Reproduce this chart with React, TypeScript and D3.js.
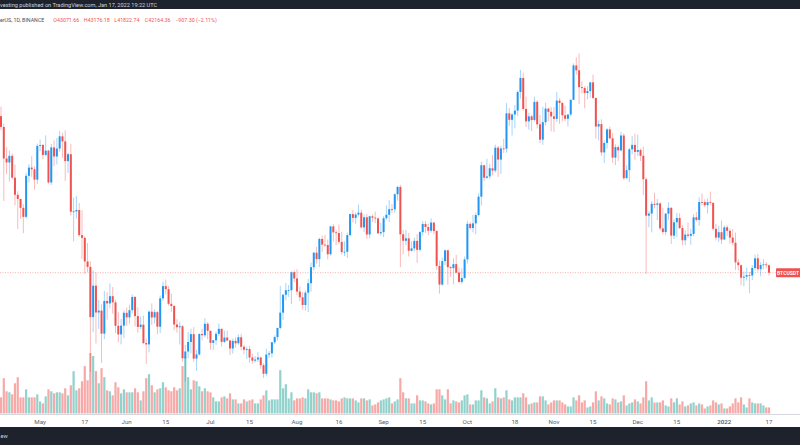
import React from "react";
import * as d3 from "d3";

// BTCUSDT, Binance, daily — values in thousands of USDT; first day 2021-04-17
const startDate = "2021-04-17";

const opens = [
  61.33, 60.01, 56.15, 55.66, 56.47, 53.80, 51.70, 51.19, 50.10, 49.00, 54.02, 55.03, 54.82, 53.56,
  57.69, 57.80, 56.58, 57.11, 53.21, 57.50, 56.39, 57.36, 58.86, 58.24, 55.82, 56.67, 49.63, 49.67, 49.84, 46.76, 46.43, 43.54, 42.87, 36.72, 40.57, 37.29, 37.52, 34.70, 38.70, 38.40, 39.29, 38.53, 35.66, 34.61, 35.68,
  37.25, 36.69, 37.57, 39.19, 36.85, 35.52, 35.80, 33.55, 33.38, 37.39, 36.68, 37.33, 35.55, 39.02, 40.52, 40.14, 38.35, 38.09, 35.82, 35.48, 35.60, 31.68, 32.51, 33.68, 34.64, 31.64, 32.16, 34.65, 34.50, 35.91,
  35.05, 33.57, 33.89, 34.68, 35.29, 33.69, 34.22, 33.86, 32.88, 33.81, 33.52, 34.26, 33.09, 32.73, 32.82, 31.78, 31.39, 31.53, 31.78, 30.84, 29.79, 32.14, 32.29, 33.64, 34.28, 35.40, 37.27, 39.46, 40.01, 40.02, 42.21,
  41.46, 39.85, 39.15, 38.21, 39.72, 40.87, 42.84, 44.61, 43.82, 46.29, 45.60, 45.55, 44.42, 47.83, 47.10, 47.02, 45.94, 44.69, 44.72, 46.76, 49.34, 48.87, 49.28, 49.51, 47.71, 48.95, 46.84, 49.07, 48.90, 48.81, 46.99,
  47.13, 48.83, 49.25, 49.94, 49.92, 51.76, 52.66, 46.86, 46.07, 46.37, 44.85, 45.14, 46.06, 44.96, 47.13, 48.13, 47.75, 47.30, 48.30, 47.26, 42.99, 40.71, 43.58, 44.90, 42.84, 42.72, 43.21, 42.17, 41.03, 41.52,
  43.79, 48.14, 47.63, 48.20, 49.22, 51.47, 55.32, 53.79, 53.95, 54.95, 54.66, 57.47, 56.01, 57.37, 57.35, 61.67, 60.88, 61.53, 62.01, 64.28, 66.00, 62.21, 60.69, 61.30, 60.85, 63.08, 60.33, 58.45, 60.59, 62.25, 61.86,
  61.30, 61.00, 63.23, 62.94, 61.44, 61.01, 61.53, 63.33, 67.54, 66.94, 64.88, 64.77, 64.16, 64.40, 65.47, 63.56, 60.06, 60.36, 56.89, 58.05, 59.71, 58.62, 56.25, 57.54, 57.14, 58.96, 53.73, 54.72, 57.27, 57.81,
  56.95, 57.18, 56.48, 53.60, 49.15, 49.40, 50.59, 50.47, 50.64, 47.59, 47.14, 49.39, 50.10, 46.70, 48.34, 48.86, 47.63, 46.13, 46.83, 46.68, 46.91, 48.94, 48.63, 50.82, 50.81, 50.43, 50.80, 50.72, 47.54, 46.46, 47.12,
  46.22, 47.72, 47.29, 46.46, 45.83, 43.43, 43.08, 41.55, 41.67, 41.86, 41.82, 42.74, 43.92, 42.59, 43.10, 43.18, 43.07,
];

const highs = [
  62.50, 60.43, 57.52, 57.10, 56.76, 55.41, 52.13, 51.20, 50.55, 54.36, 55.46, 56.43, 55.20, 57.96,
  58.46, 57.91, 58.98, 57.20, 57.94, 58.36, 58.65, 59.50, 59.30, 59.59, 56.86, 57.94, 51.37, 51.54, 50.70, 49.80, 46.64, 45.80, 43.55, 42.45, 42.20, 38.83, 38.27, 39.92, 39.80, 40.84, 40.41, 38.85, 37.34, 36.49, 37.53,
  37.90, 38.23, 39.48, 39.29, 37.92, 36.79, 36.90, 34.07, 37.53, 38.40, 37.68, 37.45, 39.38, 41.06, 41.33, 40.53, 39.56, 38.20, 36.46, 36.14, 35.75, 33.30, 34.88, 35.30, 35.50, 32.73, 34.75, 35.30, 36.60, 36.10,
  35.06, 33.94, 34.95, 35.94, 35.29, 35.08, 35.06, 33.92, 34.10, 34.26, 34.59, 34.68, 33.34, 33.11, 33.19, 32.25, 31.95, 32.44, 31.90, 31.06, 32.86, 32.58, 33.65, 34.50, 35.40, 40.55, 39.54, 40.90, 40.64, 42.32, 42.45,
  42.60, 40.46, 39.78, 39.97, 41.39, 43.39, 44.70, 45.31, 46.45, 46.70, 46.79, 46.22, 47.89, 48.14, 47.37, 48.05, 47.16, 46.00, 47.07, 49.38, 49.82, 49.53, 50.50, 49.88, 49.29, 49.36, 49.15, 49.30, 49.66, 48.91, 48.25,
  49.12, 50.40, 51.05, 50.56, 51.90, 52.78, 52.92, 47.36, 47.40, 47.03, 45.99, 46.46, 46.88, 47.25, 48.48, 48.50, 48.16, 48.84, 48.37, 47.36, 43.64, 44.00, 44.98, 45.00, 42.97, 43.92, 44.35, 42.79, 42.69, 44.13,
  48.50, 48.34, 49.23, 49.50, 51.89, 55.75, 55.34, 56.10, 55.49, 56.56, 57.84, 57.68, 57.70, 58.53, 62.93, 62.35, 61.72, 62.70, 64.49, 67.00, 66.64, 63.73, 61.75, 61.49, 63.71, 63.29, 61.50, 62.50, 62.98, 62.36, 62.44,
  62.44, 64.27, 63.52, 63.13, 62.60, 61.56, 63.39, 67.79, 68.53, 69.00, 65.60, 65.00, 64.99, 65.50, 66.40, 63.58, 60.82, 60.95, 58.35, 59.85, 60.05, 59.27, 57.88, 57.80, 59.42, 59.21, 55.33, 57.44, 58.87, 59.18,
  59.05, 57.38, 57.60, 53.86, 49.70, 50.93, 51.94, 51.20, 50.80, 50.10, 49.48, 50.80, 50.20, 48.70, 49.50, 49.44, 48.00, 47.36, 48.30, 47.54, 49.33, 49.58, 51.38, 51.87, 51.16, 51.28, 52.09, 50.72, 48.14, 47.90, 48.55,
  47.95, 47.99, 47.57, 47.51, 47.07, 43.82, 43.15, 42.30, 42.79, 42.25, 43.10, 44.35, 44.46, 43.45, 43.80, 43.48, 43.18,
];

const lows = [
  59.58, 50.93, 54.22, 53.33, 53.60, 50.40, 47.50, 48.75, 47.00, 48.80, 53.22, 53.88, 52.33, 53.01,
  57.05, 56.04, 56.44, 53.05, 52.90, 55.20, 55.42, 56.96, 56.24, 53.40, 54.37, 49.15, 46.00, 48.80, 46.56, 43.83, 42.00, 42.25, 30.00, 34.86, 33.49, 35.26, 31.11, 34.03, 36.42, 37.80, 37.13, 34.78, 33.63, 33.38, 34.15,
  35.67, 35.92, 37.17, 35.57, 34.80, 35.26, 33.42, 31.00, 32.40, 35.78, 35.94, 34.60, 34.76, 38.73, 39.51, 38.12, 37.37, 35.13, 34.82, 33.35, 31.25, 28.81, 31.68, 32.29, 31.28, 30.15, 32.00, 33.86, 34.23, 34.02,
  32.71, 32.70, 33.32, 34.40, 33.13, 33.53, 33.77, 32.08, 32.26, 33.00, 33.31, 32.66, 32.20, 31.60, 31.13, 31.02, 31.16, 31.22, 30.41, 29.28, 29.48, 31.71, 31.77, 33.40, 33.85, 35.21, 36.38, 38.77, 39.20, 38.32, 41.00,
  39.42, 38.69, 37.64, 37.51, 37.33, 39.85, 42.45, 43.26, 42.84, 44.70, 45.35, 43.77, 44.26, 45.97, 45.52, 45.66, 44.38, 44.20, 43.96, 46.63, 48.29, 48.10, 49.03, 47.60, 47.12, 46.32, 46.36, 48.36, 48.22, 46.86, 46.70,
  46.51, 48.63, 48.35, 49.51, 49.50, 50.97, 42.84, 44.41, 45.51, 44.14, 44.74, 44.74, 43.37, 44.75, 46.69, 47.02, 46.76, 47.05, 46.86, 42.50, 39.60, 40.57, 43.09, 40.68, 41.65, 40.76, 42.10, 40.83, 40.75, 41.41,
  43.28, 47.43, 47.09, 46.89, 49.06, 50.38, 53.36, 53.62, 53.66, 54.09, 54.42, 53.88, 54.25, 56.82, 56.85, 60.15, 58.96, 59.85, 61.32, 63.48, 62.00, 60.00, 59.69, 59.51, 60.66, 59.82, 58.00, 57.82, 60.17, 60.72, 59.46,
  59.41, 60.62, 60.38, 60.68, 60.72, 60.08, 61.32, 63.30, 66.38, 62.82, 64.10, 62.28, 63.39, 63.58, 63.40, 58.57, 58.37, 56.47, 55.60, 57.35, 58.47, 55.61, 55.32, 55.84, 57.00, 53.50, 53.67, 53.26, 56.67, 56.00,
  56.46, 55.84, 51.68, 42.00, 47.73, 47.10, 50.04, 48.60, 47.32, 46.85, 46.75, 48.64, 45.67, 46.29, 46.55, 47.51, 45.50, 45.51, 46.41, 45.58, 46.63, 48.42, 47.92, 50.40, 50.19, 49.41, 50.45, 47.32, 46.10, 45.90, 45.68,
  46.21, 46.65, 45.70, 45.50, 42.50, 42.43, 40.61, 40.50, 41.20, 39.65, 41.27, 42.45, 42.31, 41.73, 42.57, 42.69, 41.82,
];

const closes = [
  60.01, 56.15, 55.66, 56.47, 53.80, 51.70, 51.19, 50.10, 49.00, 54.02, 55.03, 54.82, 53.56, 57.69,
  57.80, 56.58, 57.11, 53.21, 57.50, 56.39, 57.36, 58.86, 58.24, 55.82, 56.67, 49.63, 49.67, 49.84, 46.76, 46.43, 43.54, 42.87, 36.72, 40.57, 37.29, 37.52, 34.70, 38.70, 38.40, 39.29, 38.53, 35.66, 34.61, 35.68, 37.25,
  36.69, 37.57, 39.19, 36.85, 35.52, 35.80, 33.55, 33.38, 37.39, 36.68, 37.33, 35.55, 39.02, 40.52, 40.14, 38.35, 38.09, 35.82, 35.48, 35.60, 31.68, 32.51, 33.68, 34.64, 31.64, 32.16, 34.65, 34.50, 35.91, 35.05,
  33.57, 33.89, 34.68, 35.29, 33.69, 34.22, 33.86, 32.88, 33.81, 33.52, 34.26, 33.09, 32.73, 32.82, 31.78, 31.39, 31.53, 31.78, 30.84, 29.79, 32.14, 32.29, 33.64, 34.28, 35.40, 37.27, 39.46, 40.01, 40.02, 42.21, 41.46,
  39.85, 39.15, 38.21, 39.72, 40.87, 42.84, 44.61, 43.82, 46.29, 45.60, 45.55, 44.42, 47.83, 47.10, 47.02, 45.94, 44.69, 44.72, 46.76, 49.34, 48.87, 49.28, 49.51, 47.71, 48.95, 46.84, 49.07, 48.90, 48.81, 46.99, 47.13,
  48.83, 49.25, 49.94, 49.92, 51.76, 52.66, 46.86, 46.07, 46.37, 44.85, 45.14, 46.06, 44.96, 47.13, 48.13, 47.75, 47.30, 48.30, 47.26, 42.99, 40.71, 43.58, 44.90, 42.84, 42.72, 43.21, 42.17, 41.03, 41.52, 43.79,
  48.14, 47.63, 48.20, 49.22, 51.47, 55.32, 53.79, 53.95, 54.95, 54.66, 57.47, 56.01, 57.37, 57.35, 61.67, 60.88, 61.53, 62.01, 64.28, 66.00, 62.21, 60.69, 61.30, 60.85, 63.08, 60.33, 58.45, 60.59, 62.25, 61.86, 61.30,
  61.00, 63.23, 62.94, 61.44, 61.01, 61.53, 63.33, 67.54, 66.94, 64.88, 64.77, 64.16, 64.40, 65.47, 63.56, 60.06, 60.36, 56.89, 58.05, 59.71, 58.62, 56.25, 57.54, 57.14, 58.96, 53.73, 54.72, 57.27, 57.81, 56.95,
  57.18, 56.48, 53.60, 49.15, 49.40, 50.59, 50.47, 50.64, 47.59, 47.14, 49.39, 50.10, 46.70, 48.34, 48.86, 47.63, 46.13, 46.83, 46.68, 46.91, 48.94, 48.63, 50.82, 50.81, 50.43, 50.80, 50.72, 47.54, 46.46, 47.12, 46.22,
  47.72, 47.29, 46.46, 45.83, 43.43, 43.08, 41.55, 41.67, 41.86, 41.82, 42.74, 43.92, 42.59, 43.10, 43.18, 43.07, 42.16,
];

// volume, thousands of BTC
const volumes = [
  48, 105, 66, 63, 57, 90, 108, 48, 48, 72, 48, 48, 48, 57,
  36, 30, 51, 72, 66, 60, 63, 63, 60, 75, 54, 84, 126, 69, 75, 96, 141, 99, 180, 171, 126, 90, 135, 108, 69, 66, 54, 93, 78, 60, 72,
  63, 63, 63, 75, 63, 39, 66, 105, 117, 84, 63, 72, 75, 93, 78, 69, 66, 78, 69, 75, 141, 168, 108, 72, 99, 96, 81, 66, 75, 66,
  63, 48, 36, 36, 48, 51, 45, 60, 42, 42, 30, 30, 42, 36, 39, 42, 30, 30, 42, 54, 69, 39, 42, 42, 42, 129, 75, 87, 45, 63, 39,
  45, 45, 48, 45, 72, 63, 63, 60, 63, 45, 45, 45, 42, 39, 39, 36, 45, 48, 45, 45, 45, 39, 33, 45, 45, 39, 42, 24, 27, 33, 39,
  42, 45, 48, 30, 36, 42, 105, 63, 45, 45, 30, 30, 54, 39, 39, 36, 30, 27, 30, 72, 72, 54, 42, 72, 30, 39, 36, 33, 39, 54,
  57, 27, 27, 39, 39, 69, 48, 45, 30, 36, 75, 48, 45, 48, 69, 42, 39, 48, 48, 48, 60, 48, 27, 30, 33, 33, 51, 51, 39, 27, 33,
  39, 39, 39, 33, 27, 21, 21, 48, 39, 54, 33, 39, 18, 21, 33, 66, 39, 51, 45, 30, 27, 45, 42, 33, 36, 54, 24, 30, 33, 42,
  36, 30, 48, 96, 39, 48, 33, 33, 33, 39, 24, 21, 45, 33, 45, 27, 36, 21, 24, 30, 33, 24, 30, 27, 15, 21, 24, 39, 33, 27, 30,
  15, 15, 21, 30, 45, 33, 48, 27, 18, 45, 33, 30, 30, 30, 24, 18, 18,
];

const tickDates = [
  "2021-05-01", "2021-05-17", "2021-06-01", "2021-06-15", "2021-07-01", "2021-07-15", "2021-08-01", "2021-08-16",
  "2021-09-01", "2021-09-15", "2021-10-01", "2021-10-18", "2021-11-01", "2021-11-15", "2021-12-01", "2021-12-15",
  "2022-01-01", "2022-01-17",
];
const tickLabels = ["May", "17", "Jun", "15", "Jul", "15", "Aug", "16", "Sep", "15", "Oct", "18", "Nov", "15", "Dec", "15", "2022", "17"];

const headerText = "vesting published on TradingView.com, Jan 17, 2022 19:22 UTC";
const symbolText = "erUS, 1D, BINANCE";
const ohlcLegend = [
  ["O", "43071.66"],
  ["H", "43176.18"],
  ["L", "41822.74"],
  ["C", "42164.36"],
];
const changeText = "\u2212907.30 (\u22122.11%)";
const footerText = "ew";
const priceLabel = "BTCUSDT";
const lastPrice = 42.16436;

const W = 800;
const H = 445;
const UP = "#2196f3";
const DOWN = "#ef5350";
const FONT = "Roboto, 'Liberation Sans', Arial, sans-serif";

export default function App() {
  const parse = d3.utcParse("%Y-%m-%d");
  const start = parse(startDate) as Date;
  const days = closes.map((_, i) => d3.utcDay.offset(start, i));

  const x = d3
    .scaleUtc()
    .domain([parse("2021-05-01") as Date, parse("2022-01-17") as Date])
    .range([40.1, 769]);
  const y = d3.scaleLinear().domain([29.28, 69.0]).range([377.9, 53.5]);
  const yv = d3.scaleLinear().domain([0, 180]).range([413.5, 353]);

  const bodyW = 2;
  const volW = 2.2;
  const lastY = y(lastPrice);

  return (
    <svg
      width={W}
      height={H}
      viewBox={`0 0 ${W} ${H}`}
      style={{ position: "absolute", left: 0, top: 0, display: "block", background: "#fff" }}
    >
      <rect x={0} y={0} width={W} height={H} fill="#ffffff" />

      {/* volume */}
      <g>
        {volumes.map((v, i) => {
          const up = closes[i] >= opens[i];
          const cx = x(days[i]);
          return (
            <rect
              key={"v" + i}
              x={cx - volW / 2}
              y={yv(v)}
              width={volW}
              height={yv(0) - yv(v)}
              fill={up ? "rgba(38,166,154,0.5)" : "rgba(239,83,80,0.5)"}
            />
          );
        })}
      </g>

      {/* last price line */}
      <line x1={0} x2={776} y1={lastY} y2={lastY} stroke={DOWN} strokeOpacity={0.45} strokeWidth={1} strokeDasharray="1 1.5" />

      {/* candles */}
      <g>
        {closes.map((c, i) => {
          const o = opens[i];
          const up = c >= o;
          const col = up ? UP : DOWN;
          const cx = x(days[i]);
          const top = y(Math.max(o, c));
          const bot = y(Math.min(o, c));
          return (
            <g key={"c" + i}>
              <line x1={cx} x2={cx} y1={y(highs[i])} y2={y(lows[i])} stroke={col} strokeOpacity={0.4} strokeWidth={1} />
              <rect x={cx - bodyW / 2} y={top} width={bodyW} height={Math.max(0.8, bot - top)} fill={col} />
            </g>
          );
        })}
      </g>

      {/* price label */}
      <rect x={776} y={lastY - 4.5} width={30} height={9} fill={DOWN} rx={1} />
      <text
        x={777}
        y={lastY + 1.9}
        fontSize={5.2}
        fontFamily={FONT}
        fill="#fff"
        fontWeight={600}
        textLength={22}
        lengthAdjust="spacingAndGlyphs"
      >
        {priceLabel}
      </text>

      {/* time axis */}
      <line x1={0} x2={W} y1={414.5} y2={414.5} stroke="#d6d8de" strokeWidth={1} />
      {tickDates.map((d, i) => (
        <text
          key={"t" + i}
          x={x(parse(d) as Date)}
          y={423.5}
          textAnchor="middle"
          fontSize={6.2}
          fontFamily={FONT}
          fill="#5d606b"
          fontWeight={tickLabels[i] === "2022" ? 600 : 400}
        >
          {tickLabels[i]}
        </text>
      ))}

      {/* header */}
      <rect x={0} y={0} width={W} height={9} fill="#1e222d" />
      <text x={0} y={6.6} fontSize={5.6} fontFamily={FONT} fill="#d1d4dc">
        {headerText}
      </text>
      <text y={22} fontSize={5.3} fontFamily={FONT}>
        <tspan x={0} fill="#4a4d57">{symbolText}</tspan>
        {ohlcLegend.map(([k, v], i) => (
          <tspan key={k} x={53.3 + i * 30.5} fill={DOWN}>
            {k}
            {v}
          </tspan>
        ))}
        <tspan x={53.3 + 4 * 30.5} fill={DOWN}>{changeText}</tspan>
      </text>

      {/* footer */}
      <rect x={0} y={427} width={W} height={H - 427} fill="#1e222d" />
      <text x={0.5} y={438} fontSize={5.7} fontFamily={FONT} fill="#d1d4dc">
        {footerText}
      </text>
    </svg>
  );
}
